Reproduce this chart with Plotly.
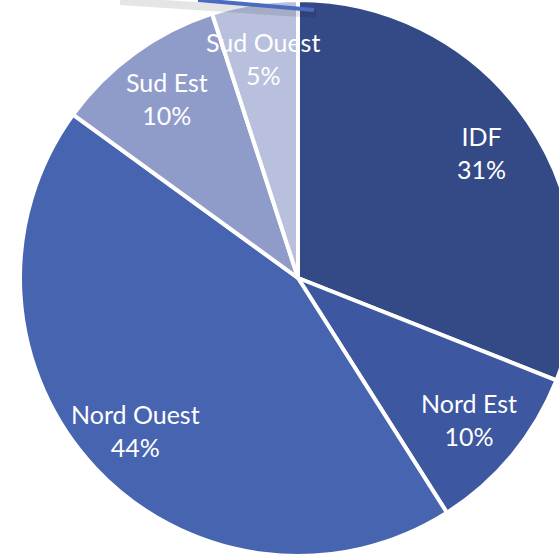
import math
import plotly.graph_objects as go

# regions et parts (%)
regions = ["IDF", "Nord Est", "Nord Ouest", "Sud Est", "Sud Ouest"]
parts = [31, 10, 44, 10, 5]
couleurs = ["#344a87", "#3d57a1", "#4764b0", "#8f9bc9", "#b9c0dd"]

W, H = 596, 556
R = min(W, H) / 2  # rayon du camembert en px
POS_LABEL = 0.8    # position des etiquettes (fraction du rayon)

fig = go.Figure(go.Pie(
    labels=regions,
    values=parts,
    sort=False,
    direction="clockwise",
    rotation=0,
    marker=dict(colors=couleurs, line=dict(color="white", width=4)),
    textinfo="none",
    hoverinfo="label+percent",
    showlegend=False,
))

# etiquettes a la facon Excel : au milieu de chaque part, vers l'exterieur
total = sum(parts)
cumul = 0
for nom, v in zip(regions, parts):
    milieu = (cumul + v / 2) / total * 2 * math.pi
    cumul += v
    x = 0.5 + POS_LABEL * R * math.sin(milieu) / W
    y = 0.5 + POS_LABEL * R * math.cos(milieu) / H
    fig.add_annotation(
        x=x, y=y, xref="paper", yref="paper",
        text=f"{nom}<br>{round(v / total * 100)}%",
        showarrow=False, xanchor="center", yanchor="middle",
        font=dict(family="Lato", size=25, color="white"),
    )

# trait parasite en haut a gauche (ombre + ligne bleue)
fig.add_shape(type="line", xref="paper", yref="paper",
              x0=120 / W, y0=1 - 1 / H, x1=316 / W, y1=1 - 14 / H,
              line=dict(color="rgba(0,0,0,0.10)", width=8))
fig.add_shape(type="line", xref="paper", yref="paper",
              x0=198 / W, y0=1 - 0 / H, x1=314 / W, y1=1 - 10 / H,
              line=dict(color="#4a6cc0", width=4))

fig.update_layout(
    width=W, height=H,
    margin=dict(l=0, r=0, t=0, b=0),
    paper_bgcolor="white",
    plot_bgcolor="white",
)

fig.write_html(
    "out.html",
    config={"displayModeBar": False},
    post_script="document.body.style.margin='0';document.body.style.overflow='hidden';",
)
